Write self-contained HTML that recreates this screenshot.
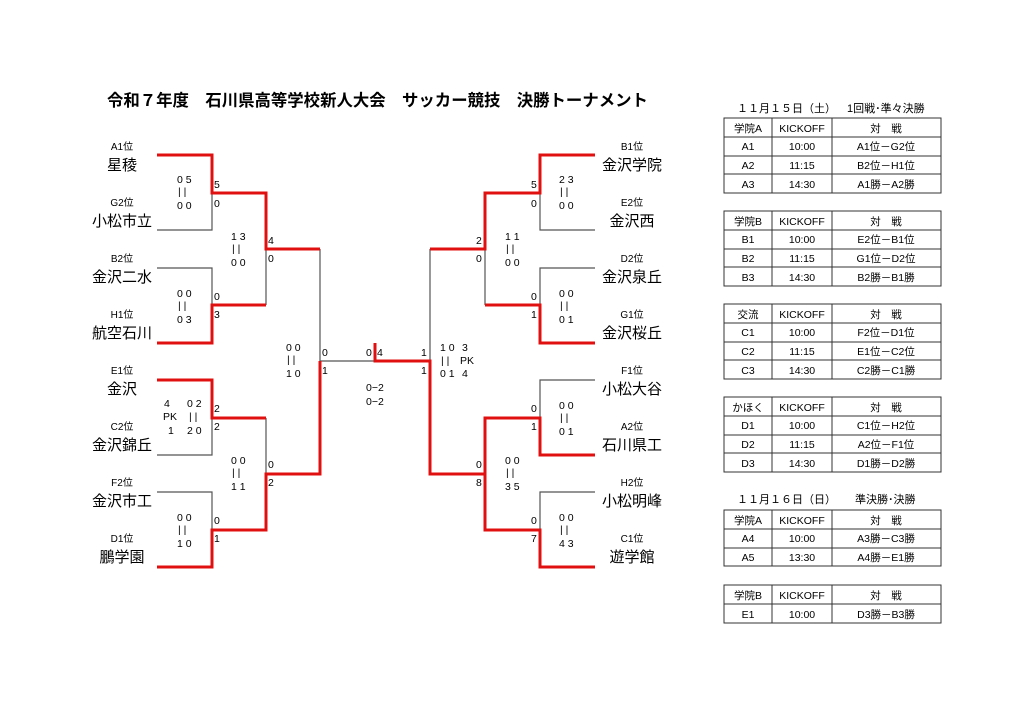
<!DOCTYPE html>
<html><head><meta charset="utf-8"><style>
body{margin:0;background:#fff;}
svg{display:block;}
text{font-family:"Liberation Sans","Noto Sans CJK JP",sans-serif;fill:#000;}
.s{font-size:10.5px;}
.n{font-size:15px;text-anchor:middle;}
.p{font-size:10px;text-anchor:middle;}
.t{font-size:10.5px;text-anchor:middle;}
</style></head><body>
<svg width="1024" height="724" viewBox="0 0 1024 724">
<text x="107" y="106" style="font-size:16.4px;font-weight:bold">令和７年度　石川県高等学校新人大会　サッカー競技　決勝トーナメント</text>
<g fill="none" stroke="#555" stroke-width="1.2">
<path d="M157 230H212V193 M157 268H212V305 M266 249V305 M157 455H212V418 M157 492H212V530 M266 418V474 M320 249V361H375"/>
<path d="M595 230H540V193 M595 268H540V305 M485 249V305 M595 380H540V418 M595 492H540V530 M430 249V361"/>
</g>
<g fill="none" stroke="#e01010" stroke-width="3">
<path d="M157 155H212V193H266V249H320"/>
<path d="M157 343H212V305H266"/>
<path d="M157 380H212V418H266"/>
<path d="M157 567H212V530H266V474H320V361 M266 530V474"/>
<path d="M375 343V361H430V474H485"/>
<path d="M595 155H540V193H485V249H430"/>
<path d="M595 343H540V305H485"/>
<path d="M595 455H540V418H485V474V530H540V567H595"/>
</g>
<g>
<text class="p" x="122" y="150">A1位</text><text class="n" x="122" y="170">星稜</text>
<text class="p" x="122" y="206">G2位</text><text class="n" x="122" y="226">小松市立</text>
<text class="p" x="122" y="262">B2位</text><text class="n" x="122" y="282">金沢二水</text>
<text class="p" x="122" y="318">H1位</text><text class="n" x="122" y="338">航空石川</text>
<text class="p" x="122" y="374">E1位</text><text class="n" x="122" y="394">金沢</text>
<text class="p" x="122" y="430">C2位</text><text class="n" x="122" y="450">金沢錦丘</text>
<text class="p" x="122" y="486">F2位</text><text class="n" x="122" y="506">金沢市工</text>
<text class="p" x="122" y="542">D1位</text><text class="n" x="122" y="562">鵬学園</text>
</g>
<g>
<text class="p" x="632" y="150">B1位</text><text class="n" x="632" y="170">金沢学院</text>
<text class="p" x="632" y="206">E2位</text><text class="n" x="632" y="226">金沢西</text>
<text class="p" x="632" y="262">D2位</text><text class="n" x="632" y="282">金沢泉丘</text>
<text class="p" x="632" y="318">G1位</text><text class="n" x="632" y="338">金沢桜丘</text>
<text class="p" x="632" y="374">F1位</text><text class="n" x="632" y="394">小松大谷</text>
<text class="p" x="632" y="430">A2位</text><text class="n" x="632" y="450">石川県工</text>
<text class="p" x="632" y="486">H2位</text><text class="n" x="632" y="506">小松明峰</text>
<text class="p" x="632" y="542">C1位</text><text class="n" x="632" y="562">遊学館</text>
</g>
<g class="s">
<text x="214" y="188" class="s">5</text><text x="214" y="207" class="s">0</text>
<text x="214" y="300" class="s">0</text><text x="214" y="318" class="s">3</text>
<text x="214" y="412" class="s">2</text><text x="214" y="430" class="s">2</text>
<text x="214" y="524" class="s">0</text><text x="214" y="542" class="s">1</text>
<text x="268" y="244" class="s">4</text><text x="268" y="262" class="s">0</text>
<text x="268" y="468" class="s">0</text><text x="268" y="486" class="s">2</text>
<text x="322" y="356" class="s">0</text><text x="322" y="374" class="s">1</text>
<text x="366" y="356" class="s">0</text><text x="377" y="356" class="s">4</text>
<text x="421" y="356" class="s">1</text><text x="421" y="374" class="s">1</text>
<text x="476" y="244" class="s">2</text><text x="476" y="262" class="s">0</text>
<text x="476" y="468" class="s">0</text><text x="476" y="486" class="s">8</text>
<text x="531" y="188" class="s">5</text><text x="531" y="207" class="s">0</text>
<text x="531" y="300" class="s">0</text><text x="531" y="318" class="s">1</text>
<text x="531" y="412" class="s">0</text><text x="531" y="430" class="s">1</text>
<text x="531" y="524" class="s">0</text><text x="531" y="542" class="s">7</text>
</g>
<g class="s">
<text x="177" y="183">0 5</text><text x="178" y="195">| |</text><text x="177" y="209">0 0</text>
<text x="177" y="297">0 0</text><text x="178" y="309">| |</text><text x="177" y="323">0 3</text>
<text x="231" y="240">1 3</text><text x="232" y="252">| |</text><text x="231" y="266">0 0</text>
<text x="164" y="407">4</text><text x="187" y="407">0 2</text>
<text x="163" y="420">PK</text><text x="189" y="420">| |</text>
<text x="168" y="434">1</text><text x="187" y="434">2 0</text>
<text x="231" y="464">0 0</text><text x="232" y="476">| |</text><text x="231" y="490">1 1</text>
<text x="177" y="521">0 0</text><text x="178" y="533">| |</text><text x="177" y="547">1 0</text>
<text x="286" y="351">0 0</text><text x="287" y="363">| |</text><text x="286" y="377">1 0</text>
<text x="366" y="391">0−2</text><text x="366" y="405">0−2</text>
<text x="440" y="351">1 0</text><text x="462" y="351">3</text>
<text x="441" y="364">|  |</text><text x="460" y="364">PK</text>
<text x="440" y="377">0 1</text><text x="462" y="377">4</text>
<text x="559" y="183">2 3</text><text x="560" y="195">| |</text><text x="559" y="209">0 0</text>
<text x="505" y="240">1 1</text><text x="506" y="252">| |</text><text x="505" y="266">0 0</text>
<text x="559" y="297">0 0</text><text x="560" y="309">| |</text><text x="559" y="323">0 1</text>
<text x="559" y="409">0 0</text><text x="560" y="421">| |</text><text x="559" y="435">0 1</text>
<text x="505" y="464">0 0</text><text x="506" y="476">| |</text><text x="505" y="490">3 5</text>
<text x="559" y="521">0 0</text><text x="560" y="533">| |</text><text x="559" y="547">4 3</text>
</g>
<g>
<text x="737" y="112" style="font-size:11px">１１月１５日（土）</text>
<text x="847" y="112" style="font-size:11px">1回戦･準々決勝</text>
<text x="737" y="503" style="font-size:11px">１１月１６日（日）</text>
<text x="855" y="503" style="font-size:11px">準決勝･決勝</text>
</g>
<g fill="none" stroke="#333" stroke-width="1">
<path d="M724 118H941V193H724Z M724 137H941 M724 156H941 M724 174H941 M772 118V193 M832 118V193"/>
<path d="M724 211H941V286H724Z M724 230H941 M724 249H941 M724 267H941 M772 211V286 M832 211V286"/>
<path d="M724 304H941V379H724Z M724 323H941 M724 342H941 M724 360H941 M772 304V379 M832 304V379"/>
<path d="M724 397H941V472H724Z M724 416H941 M724 435H941 M724 453H941 M772 397V472 M832 397V472"/>
<path d="M724 510H941V566H724Z M724 529H941 M724 548H941 M772 510V566 M832 510V566"/>
<path d="M724 585H941V623H724Z M724 604H941 M772 585V623 M832 585V623"/>
</g>
<g>
<text class="t" x="748" y="132">学院A</text><text class="t" x="802" y="132">KICKOFF</text><text class="t" x="886" y="132">対　戦</text>
<text class="t" x="748" y="150">A1</text><text class="t" x="802" y="150">10:00</text><text class="t" x="886" y="150">A1位－G2位</text>
<text class="t" x="748" y="169">A2</text><text class="t" x="802" y="169">11:15</text><text class="t" x="886" y="169">B2位－H1位</text>
<text class="t" x="748" y="188">A3</text><text class="t" x="802" y="188">14:30</text><text class="t" x="886" y="188">A1勝－A2勝</text>
<text class="t" x="748" y="225">学院B</text><text class="t" x="802" y="225">KICKOFF</text><text class="t" x="886" y="225">対　戦</text>
<text class="t" x="748" y="243">B1</text><text class="t" x="802" y="243">10:00</text><text class="t" x="886" y="243">E2位－B1位</text>
<text class="t" x="748" y="262">B2</text><text class="t" x="802" y="262">11:15</text><text class="t" x="886" y="262">G1位－D2位</text>
<text class="t" x="748" y="281">B3</text><text class="t" x="802" y="281">14:30</text><text class="t" x="886" y="281">B2勝－B1勝</text>
<text class="t" x="748" y="318">交流</text><text class="t" x="802" y="318">KICKOFF</text><text class="t" x="886" y="318">対　戦</text>
<text class="t" x="748" y="336">C1</text><text class="t" x="802" y="336">10:00</text><text class="t" x="886" y="336">F2位－D1位</text>
<text class="t" x="748" y="355">C2</text><text class="t" x="802" y="355">11:15</text><text class="t" x="886" y="355">E1位－C2位</text>
<text class="t" x="748" y="374">C3</text><text class="t" x="802" y="374">14:30</text><text class="t" x="886" y="374">C2勝－C1勝</text>
<text class="t" x="748" y="411">かほく</text><text class="t" x="802" y="411">KICKOFF</text><text class="t" x="886" y="411">対　戦</text>
<text class="t" x="748" y="429">D1</text><text class="t" x="802" y="429">10:00</text><text class="t" x="886" y="429">C1位－H2位</text>
<text class="t" x="748" y="448">D2</text><text class="t" x="802" y="448">11:15</text><text class="t" x="886" y="448">A2位－F1位</text>
<text class="t" x="748" y="467">D3</text><text class="t" x="802" y="467">14:30</text><text class="t" x="886" y="467">D1勝－D2勝</text>
<text class="t" x="748" y="524">学院A</text><text class="t" x="802" y="524">KICKOFF</text><text class="t" x="886" y="524">対　戦</text>
<text class="t" x="748" y="542">A4</text><text class="t" x="802" y="542">10:00</text><text class="t" x="886" y="542">A3勝－C3勝</text>
<text class="t" x="748" y="561">A5</text><text class="t" x="802" y="561">13:30</text><text class="t" x="886" y="561">A4勝－E1勝</text>
<text class="t" x="748" y="599">学院B</text><text class="t" x="802" y="599">KICKOFF</text><text class="t" x="886" y="599">対　戦</text>
<text class="t" x="748" y="618">E1</text><text class="t" x="802" y="618">10:00</text><text class="t" x="886" y="618">D3勝－B3勝</text>
</g>
</svg>
</body></html>
